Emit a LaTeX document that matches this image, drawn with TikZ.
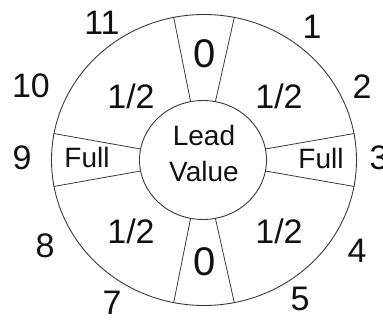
\documentclass[tikz,border=0pt]{standalone}
\usepackage{fontspec}
\setmainfont{Liberation Sans}
\usepackage{tikz}
\usetikzlibrary{shapes.geometric}
\usepackage{xcolor}
\definecolor{ringline}{HTML}{3A3A3A}
\definecolor{ringtext}{HTML}{111111}

\begin{document}
\begin{tikzpicture}[
    x=1pt, y=1pt,
    ring/.style={draw=ringline, ellipse, line width=0.9pt, inner sep=0pt},
    wedge/.style={draw=ringline, line width=0.8pt},
    num/.style={font=\fontsize{34}{40}\selectfont, text=ringtext, inner sep=0pt},
    half/.style={font=\fontsize{34}{40}\selectfont, text=ringtext, inner sep=0pt},
    zero/.style={font=\fontsize{40}{46}\selectfont, text=ringtext, inner sep=0pt},
    lbl/.style={font=\fontsize{28}{36}\selectfont, text=ringtext, inner sep=0pt, align=center},
]
\useasboundingbox (-204,-161) rectangle (179,160);

\node[ring, minimum width=305, minimum height=291] (outer) at (0,0) {};
\node[ring, minimum width=127, minimum height=119] (lead) at (-1,0) {};

% wedge borders
\draw[wedge] (lead.78) -- (outer.78);
\draw[wedge] (lead.102) -- (outer.102);
\draw[wedge] (lead.10) -- (outer.10);
\draw[wedge] (lead.-10) -- (outer.-10);
\draw[wedge] (lead.170) -- (outer.170);
\draw[wedge] (lead.190) -- (outer.190);
\draw[wedge] (lead.258) -- (outer.258);
\draw[wedge] (lead.282) -- (outer.282);

% sector values
\node[zero] (topzero) at (0.5,106) {0};
\node[zero] (botzero) at (1,-102) {0};
\node[half] (halfUL) at (-73,64) {1/2};
\node[half] (halfUR) at (75,64) {1/2};
\node[half] (halfLL) at (-73,-71) {1/2};
\node[half] (halfLR) at (75,-71) {1/2};
\node[lbl] (fullL) at (-117,3) {Full};
\node[lbl] (fullR) at (117,2) {Full};
\node[lbl] (leadtext) at (0,6.5) {Lead\\Value};

% clock positions
\node[num] (h1) at (108,133) {1};
\node[num] (h2) at (158,73) {2};
\node[num] (h3) at (175,2) {3};
\node[num] (h4) at (153,-91) {4};
\node[num] (h5) at (96,-139) {5};
\node[num] (h7) at (-92,-143) {7};
\node[num] (h8) at (-159,-86) {8};
\node[num] (h9) at (-182,2) {9};
\node[num] (h10) at (-173,74) {10};
\node[num] (h11) at (-102,137) {11};

\end{tikzpicture}
\end{document}
